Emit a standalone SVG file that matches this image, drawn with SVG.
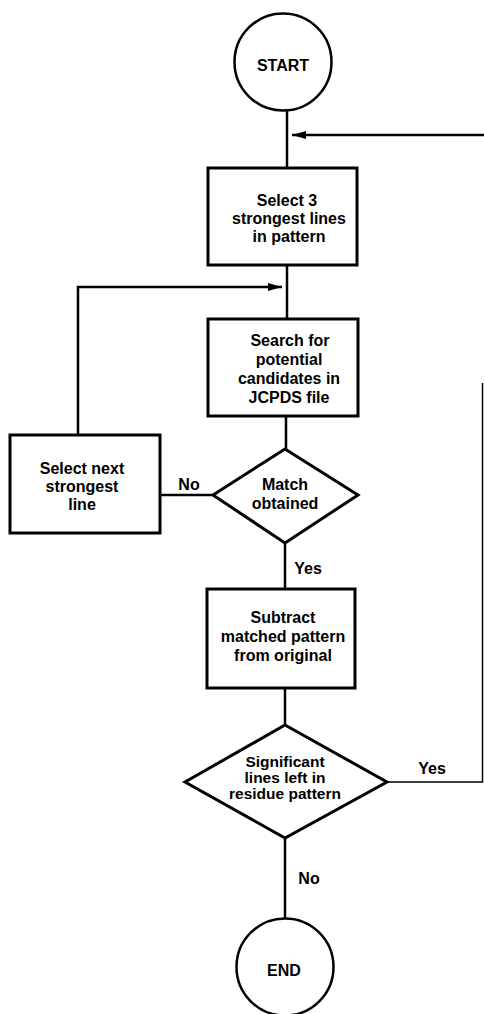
<svg xmlns="http://www.w3.org/2000/svg" width="484" height="1014" viewBox="0 0 484 1014">
<style>
  .node { fill: #fff; stroke: #000; stroke-width: 3; }
  .term { fill: #fff; stroke: #000; stroke-width: 2.5; }
  .conn { fill: none; stroke: #000; stroke-width: 2.5; }
  .thin { fill: none; stroke: #000; stroke-width: 1.5; }
  text { font-family: "Liberation Sans", Arial, sans-serif; font-weight: bold; font-size: 16px; fill: #000; text-anchor: middle; }
  .small { font-size: 15.5px; }
</style>
<defs>
  <marker id="arr" viewBox="0 0 14 8" refX="14" refY="4" markerWidth="14" markerHeight="8" markerUnits="userSpaceOnUse" orient="auto">
    <path d="M0,0 L14,4 L0,8 Z" fill="#000"/>
  </marker>
</defs>
<rect width="484" height="1014" fill="#fff"/>
<g id="connectors">
  <line class="conn" x1="287" y1="110" x2="287" y2="168"/>
  <line class="conn" x1="484" y1="135" x2="292" y2="135" marker-end="url(#arr)"/>
  <line class="conn" x1="287" y1="265" x2="287" y2="319"/>
  <polyline class="conn" points="78,435 78,287 282,287" marker-end="url(#arr)"/>
  <line class="conn" x1="286" y1="416" x2="286" y2="449"/>
  <line class="conn" x1="160" y1="495" x2="213" y2="495"/>
  <line class="conn" x1="285" y1="543" x2="285" y2="589"/>
  <line class="conn" x1="285" y1="688" x2="285" y2="725"/>
  <polyline class="thin" points="387,782 482.5,782 482.5,383"/>
  <line class="conn" x1="285" y1="838" x2="285" y2="919"/>
</g>
<g id="start">
  <circle class="term" cx="283" cy="62" r="48.5"/>
  <text x="283" y="71">START</text>
</g>
<g id="select3">
  <rect class="node" x="208" y="168" width="149" height="97"/>
  <text x="287" y="206">Select 3</text>
  <text x="289" y="224">strongest lines</text>
  <text x="289" y="242">in pattern</text>
</g>
<g id="search">
  <rect class="node" x="208" y="319" width="150" height="97"/>
  <text x="290" y="346">Search for</text>
  <text x="289" y="365">potential</text>
  <text x="289" y="384">candidates in</text>
  <text x="289" y="403">JCPDS file</text>
</g>
<g id="match">
  <polygon class="node" points="285,449 358,495 285,543 213,495"/>
  <text x="285" y="490">Match</text>
  <text x="285" y="509">obtained</text>
</g>
<g id="selectnext">
  <rect class="node" x="10" y="435" width="150" height="98"/>
  <text x="82" y="474">Select next</text>
  <text x="82" y="492">strongest</text>
  <text x="82" y="510">line</text>
</g>
<g id="subtract">
  <rect class="node" x="207" y="589" width="148" height="99"/>
  <text x="283" y="623">Subtract</text>
  <text x="283" y="642">matched pattern</text>
  <text x="283" y="661">from original</text>
</g>
<g id="significant">
  <polygon class="node" points="285,725 387,782 285,838 185,782"/>
  <text class="small" x="285" y="767">Significant</text>
  <text class="small" x="285" y="783">lines left in</text>
  <text class="small" x="285" y="799">residue pattern</text>
</g>
<g id="end">
  <circle class="term" cx="285" cy="967" r="48.5"/>
  <text x="284" y="976">END</text>
</g>
<g id="labels">
  <text x="189" y="490">No</text>
  <text x="308" y="574">Yes</text>
  <text x="432" y="774">Yes</text>
  <text x="309" y="884">No</text>
</g>
</svg>
